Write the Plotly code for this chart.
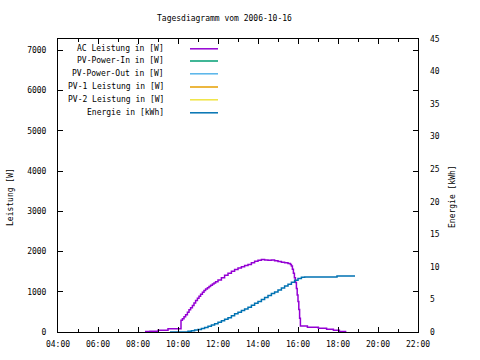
import plotly.graph_objects as go

# ---- data ----
title_text = "Tagesdiagramm vom 2006-10-16"
series_names = ["AC Leistung in [W]", "PV-Power-In in [W]", "PV-Power-Out in [W]",
                "PV-1 Leistung in [W]", "PV-2 Leistung in [W]", "Energie in [kWh]"]
series_colors = ["#9400D3", "#009E73", "#56B4E9", "#E69F00", "#F0E442", "#0072B2"]

ac_hours = [8.35, 8.6, 9.0, 9.5, 10.15, 10.22, 10.3, 10.38, 10.47, 10.55, 10.63, 10.72,
            10.8, 10.88, 10.97, 11.05, 11.13, 11.22, 11.3, 11.38, 11.47, 11.55, 11.63,
            11.72, 11.8, 11.88, 12.0, 12.17, 12.33, 12.5, 12.67, 12.83, 13.0, 13.17, 13.33,
            13.5, 13.67, 13.83, 14.0, 14.17, 14.33, 14.5, 14.67, 14.83, 15.0, 15.17, 15.33,
            15.5, 15.62, 15.67, 15.72, 15.77, 15.82, 15.87, 15.92, 15.96, 16.0, 16.04,
            16.08, 16.12, 16.47, 17.02, 17.43, 17.77, 18.07, 18.38]
ac_watts = [10, 20, 45, 80, 290, 330, 380, 430, 490, 550, 600, 660,
            720, 780, 840, 890, 940, 990, 1030, 1070, 1100, 1130, 1160,
            1190, 1220, 1250, 1290, 1350, 1410, 1460, 1510, 1550, 1590, 1620, 1650,
            1680, 1720, 1760, 1780, 1800, 1790, 1780, 1790, 1770, 1750, 1730, 1720,
            1700, 1680, 1640, 1560, 1460, 1350, 1230, 1080, 920, 760, 560,
            340, 150, 117, 92, 67, 42, 15, 0]

en_hours = [9.6, 10.0, 10.33, 10.5, 10.67, 10.83, 11.0, 11.17, 11.33, 11.5, 11.67, 11.83,
            12.0, 12.17, 12.33, 12.5, 12.67, 12.83, 13.0, 13.17, 13.33, 13.5, 13.67, 13.83,
            14.0, 14.17, 14.33, 14.5, 14.67, 14.83, 15.0, 15.17, 15.33, 15.5, 15.67, 15.83,
            16.0, 16.17, 16.33, 17.95, 18.85]
en_kwh = [0, 0, 0, 0.1, 0.2, 0.3, 0.4, 0.55, 0.7, 0.88, 1.07, 1.27,
          1.5, 1.72, 1.95, 2.2, 2.5, 2.8, 3.05, 3.3, 3.55, 3.82, 4.1, 4.4,
          4.7, 5.0, 5.3, 5.6, 5.9, 6.15, 6.45, 6.75, 7.05, 7.35, 7.65, 7.95,
          8.2, 8.4, 8.45, 8.6, 8.6]

x_tickvals = [4, 6, 8, 10, 12, 14, 16, 18, 20, 22]
x_ticktext = ["04:00", "06:00", "08:00", "10:00", "12:00", "14:00", "16:00", "18:00", "20:00", "22:00"]
y_tickvals = [0, 1000, 2000, 3000, 4000, 5000, 6000, 7000]
y2_tickvals = [0, 5, 10, 15, 20, 25, 30, 35, 40, 45]

# ---- layout geometry ----
W, H = 480, 360
L, R, T, B = 58, 62, 39, 28
PW, PH = W - L - R, H - T - B
FONT = dict(family="DejaVu Sans Mono", size=8, color="black")


def px(x):
    return (x - L) / PW


def py(y):
    return (H - B - y) / PH


fig = go.Figure()
fig.add_trace(go.Scatter(x=ac_hours, y=ac_watts, mode="lines", line_shape="hv",
                         line=dict(color=series_colors[0], width=1.5),
                         name=series_names[0], showlegend=False))
fig.add_trace(go.Scatter(x=en_hours, y=en_kwh, mode="lines", line_shape="hv", yaxis="y2",
                         line=dict(color=series_colors[5], width=1.5),
                         name=series_names[5], showlegend=False))

axis_common = dict(showgrid=False, zeroline=False, showline=True, linecolor="black",
                   linewidth=1, tickfont=FONT, ticks="inside", ticklen=5,
                   tickcolor="black")

fig.update_layout(
    width=W, height=H,
    margin=dict(l=L, r=R, t=T, b=B, pad=0),
    paper_bgcolor="white", plot_bgcolor="white",
    showlegend=False,
    font=FONT,
    xaxis=dict(range=[4, 22], tickvals=x_tickvals, ticktext=x_ticktext, mirror="ticks",
               ticklabelstandoff=4,
               minor=dict(dtick=1, tick0=5, ticks="inside", ticklen=3, tickcolor="black"),
               **axis_common),
    yaxis=dict(range=[0, 7280], tickvals=y_tickvals, mirror="ticks", ticklabelstandoff=9,
               **axis_common),
    yaxis2=dict(range=[0, 45], tickvals=y2_tickvals, overlaying="y", side="right",
                showgrid=False, zeroline=False, showline=False, ticks="",
                ticklabelstandoff=11, tickfont=FONT),
)

ann = []
ann.append(dict(text=title_text, x=px(224), y=py(18), xref="paper", yref="paper",
                showarrow=False, font=FONT, xanchor="center", yanchor="middle"))
ann.append(dict(text="Leistung [W]", x=px(10), y=py(197), xref="paper", yref="paper",
                showarrow=False, font=FONT, textangle=-90, xanchor="center", yanchor="middle"))
ann.append(dict(text="Energie [kWh]", x=px(452), y=py(197), xref="paper", yref="paper",
                showarrow=False, font=FONT, textangle=-90, xanchor="center", yanchor="middle"))

legend_rows = [48.3, 60.5, 73.3, 86.5, 99.3, 112.3]
shapes = []
for name, color, ry in zip(series_names, series_colors, legend_rows):
    ann.append(dict(text=name, x=px(166), y=py(ry), xref="paper", yref="paper",
                    showarrow=False, font=FONT, xanchor="right", yanchor="middle"))
    shapes.append(dict(type="line", xref="paper", yref="paper",
                       x0=px(190), x1=px(218), y0=py(ry + 0.5), y1=py(ry + 0.5),
                       line=dict(color=color, width=1.5)))

fig.update_layout(annotations=ann, shapes=shapes)
fig.write_html("out.html", config={"displayModeBar": False},
               post_script="document.body.style.margin='0';")
